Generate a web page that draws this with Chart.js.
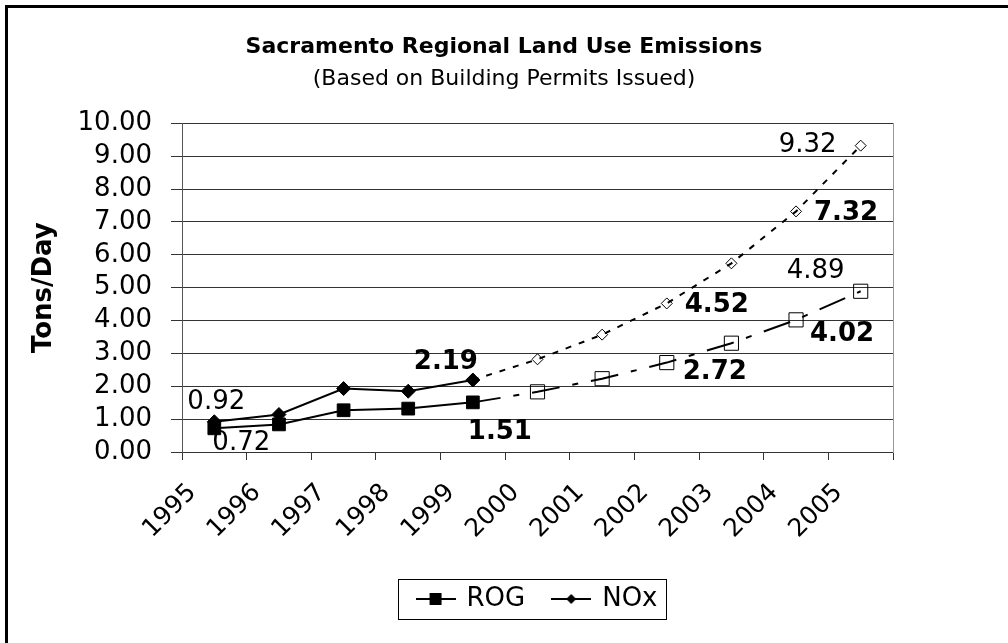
<!DOCTYPE html>
<html>
<head>
<meta charset="utf-8">
<title>Sacramento Regional Land Use Emissions</title>
<script src="https://cdn.jsdelivr.net/npm/chart.js@4.4.1/dist/chart.umd.min.js"></script>
<style>
  html, body { margin: 0; padding: 0; background: #fff; }
  #chartWrap { width: 1008px; height: 643px; }
</style>
</head>
<body>
<div id="chartWrap"><canvas id="emissionsChart" width="1008" height="643"></canvas></div>
<script>
// Tons/day. 1995-1999 are from permits, 2000-2005 are projected (dashed)
const years = ['1995', '1996', '1997', '1998', '1999', '2000', '2001', '2002', '2003', '2004', '2005'];
const rogValues = [0.72, 0.84, 1.27, 1.32, 1.51, 1.83, 2.23, 2.72, 3.31, 4.02, 4.89];
const noxValues = [0.92, 1.14, 1.93, 1.85, 2.19, 2.82, 3.57, 4.52, 5.74, 7.32, 9.32];
const actualYears = 5;

// which points carry a value label, and which of those are bold
const labeledPoints = [0, 4, 7, 9, 10];
const boldPoints = [4, 7, 9];

const FONT = '"DejaVu Sans", Verdana, sans-serif';
Chart.defaults.font.family = FONT;
Chart.defaults.color = '#000';

// legend symbol: line with the marker in the middle
function legendSymbol(kind) {
  const c = document.createElement('canvas');
  c.width = 40;
  c.height = 16;
  const g = c.getContext('2d');
  g.strokeStyle = '#000';
  g.lineWidth = 2;
  g.beginPath();
  g.moveTo(0, 8);
  g.lineTo(40, 8);
  g.stroke();
  g.fillStyle = '#000';
  if (kind === 'rect') {
    g.fillRect(14, 2, 12, 12);
  } else {
    g.beginPath();
    g.moveTo(20, 3);
    g.lineTo(25, 8);
    g.lineTo(20, 13);
    g.lineTo(15, 8);
    g.closePath();
    g.fill();
  }
  return c;
}
const symbols = { ROG: legendSymbol('rect'), NOx: legendSymbol('diamond') };

// value labels next to the points
const pointLabels = {
  id: 'pointLabels',
  afterDatasetsDraw(chart, args, opts) {
    const ctx = chart.ctx;
    ctx.save();
    ctx.textAlign = 'center';
    ctx.textBaseline = 'middle';
    ctx.fillStyle = '#000';
    chart.data.datasets.forEach((ds, di) => {
      const meta = chart.getDatasetMeta(di);
      const offsets = opts.offsets[ds.label];
      labeledPoints.forEach(i => {
        const pt = meta.data[i];
        const off = offsets[i];
        ctx.font = (boldPoints.includes(i) ? 'bold ' : '') + '26px ' + FONT;
        ctx.fillText(ds.data[i].toFixed(2), pt.x + off[0], pt.y + off[1]);
      });
    });
    ctx.restore();
  }
};

// outer frame (left + top edge) and the box around the legend
const frame = {
  id: 'frame',
  beforeDraw(chart) {
    const ctx = chart.ctx;
    ctx.save();
    ctx.fillStyle = '#fff';
    ctx.fillRect(0, 0, chart.width, chart.height);
    ctx.fillStyle = '#000';
    ctx.fillRect(5, 5, 3, chart.height);
    ctx.fillRect(5, 5, chart.width, 3);
    ctx.restore();
  },
  afterDraw(chart) {
    const boxes = chart.legend.legendHitBoxes;
    if (!boxes || !boxes.length) return;
    const first = boxes[0];
    const last = boxes[boxes.length - 1];
    const cy = first.top + first.height / 2;
    const ctx = chart.ctx;
    ctx.save();
    ctx.strokeStyle = '#000';
    ctx.lineWidth = 1;
    const x0 = Math.round(first.left - 20) + 0.5;
    const x1 = Math.round(last.left + last.width + 9) + 0.5;
    ctx.strokeRect(x0, Math.round(cy - 20) + 0.5, x1 - x0, 40);
    ctx.restore();
  }
};

const isActual = ctx => ctx.dataIndex < actualYears;
const projected = (ctx, dash) => ctx.p0DataIndex >= actualYears - 1 ? dash : undefined;

const chart = new Chart(document.getElementById('emissionsChart'), {
  type: 'line',
  data: {
    labels: years,
    datasets: [
      {
        label: 'ROG',
        data: rogValues,
        borderColor: '#000',
        borderWidth: 2,
        pointStyle: 'rect',
        pointRadius: ctx => isActual(ctx) ? 9 : 10,
        pointBackgroundColor: ctx => isActual(ctx) ? '#000' : 'rgba(0,0,0,0)',
        pointBorderColor: '#000',
        pointBorderWidth: 1,
        segment: { borderDash: ctx => projected(ctx, [28, 13, 6, 13]) },
        clip: false
      },
      {
        label: 'NOx',
        data: noxValues,
        borderColor: '#000',
        borderWidth: 2,
        pointStyle: 'rectRot',
        pointRadius: ctx => isActual(ctx) ? 7 : 5.5,
        pointBackgroundColor: ctx => isActual(ctx) ? '#000' : 'rgba(0,0,0,0)',
        pointBorderColor: '#000',
        pointBorderWidth: 1,
        segment: { borderDash: ctx => projected(ctx, [6, 8]) },
        clip: false
      }
    ]
  },
  options: {
    responsive: false,
    animation: false,
    devicePixelRatio: 1,
    layout: { padding: { top: 0, right: 0, bottom: 21, left: 0 } },
    scales: {
      x: {
        type: 'category',
        offset: true,
        grid: { offset: true, drawOnChartArea: false, drawTicks: true, tickLength: 8, color: '#333' },
        border: { display: true, color: '#333', width: 1 },
        ticks: { minRotation: 45, maxRotation: 45, autoSkip: false, labelOffset: -22, padding: 18, font: { size: 25 }, color: '#000' },
        afterFit: s => { s.height = 106; }
      },
      y: {
        min: 0,
        max: 10,
        grid: { color: '#333', tickLength: 11, drawTicks: true },
        border: { color: '#555', width: 1 },
        ticks: { stepSize: 1, autoSkip: false, padding: 19, font: { size: 26 }, color: '#000', callback: v => v.toFixed(2) },
        title: { display: true, text: 'Tons/Day', font: { size: 26, weight: 'bold' }, color: '#000', padding: { top: 29, bottom: 0 } },
        afterFit: s => { s.width = 182; }
      },
      spacer: {
        type: 'linear',
        position: 'right',
        display: true,
        grid: { display: false },
        ticks: { display: false },
        border: { display: true, color: '#999', width: 1 },
        afterFit: s => { s.width = 115; }
      }
    },
    plugins: {
      title: {
        display: true,
        text: 'Sacramento Regional Land Use Emissions',
        font: { size: 22, weight: 'bold' },
        color: '#000',
        padding: { top: 34, bottom: 0 }
      },
      subtitle: {
        display: true,
        text: '(Based on Building Permits Issued)',
        font: { size: 22 },
        color: '#000',
        padding: { top: 5.5, bottom: 31 }
      },
      legend: {
        position: 'bottom',
        fullSize: false,
        labels: {
          usePointStyle: true,
          pointStyleWidth: 36,
          padding: 28,
          font: { size: 26 },
          color: '#000',
          generateLabels: c => Chart.defaults.plugins.legend.labels.generateLabels(c)
            .map(item => Object.assign(item, { pointStyle: symbols[c.data.datasets[item.datasetIndex].label] }))
        }
      },
      tooltip: { enabled: false },
      pointLabels: {
        offsets: {
          ROG: { 0: [27, 15], 4: [27, 30], 7: [48, 10], 9: [46, 14], 10: [-45, -20] },
          NOx: { 0: [2, -20], 4: [-27, -18], 7: [50, 2], 9: [50, 2], 10: [-53, 0] }
        }
      }
    }
  },
  plugins: [frame, pointLabels]
});
</script>
</body>
</html>
